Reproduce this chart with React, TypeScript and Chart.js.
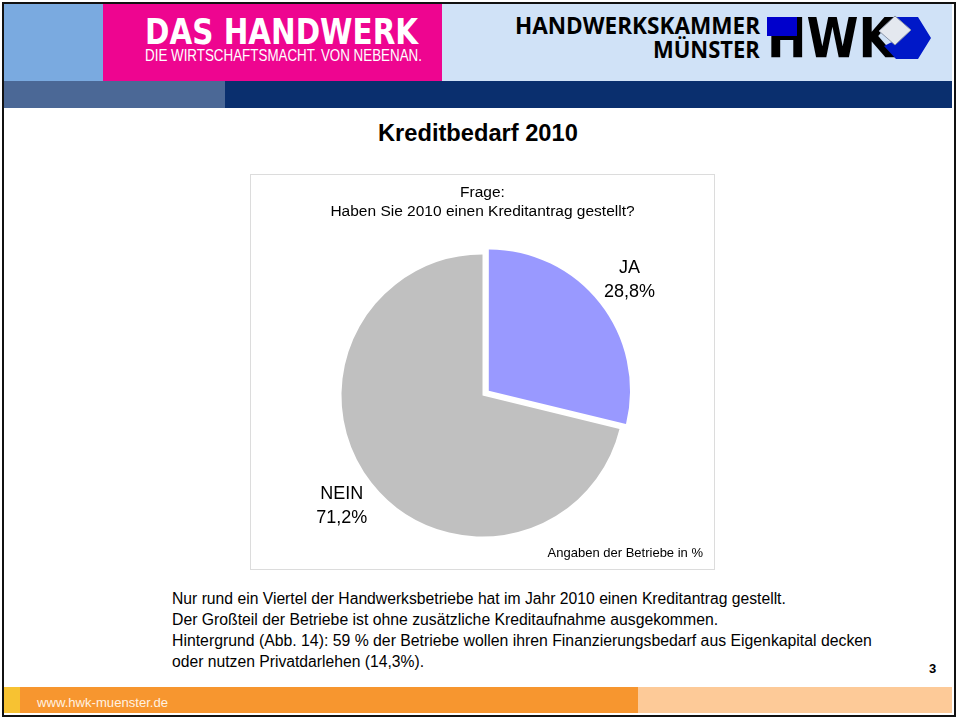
import React, { useEffect, useLayoutEffect, useRef, useState } from "react";
import { Chart, registerables } from "chart.js";

Chart.register(...registerables);

// ---------- data ----------
const categories = ["JA", "NEIN"];
const shares = [28.8, 71.2];
const sliceColors = ["#9999ff", "#c0c0c0"];
const sliceOffsets = [32, 0]; // Chart.js 4 translates an arc by offset / 4
const questionLines = ["Frage:", "Haben Sie 2010 einen Kreditantrag gestellt?"];
const sourceNote = "Angaben der Betriebe in %";
const slideTitle = "Kreditbedarf 2010";
const bodyLines = [
  "Nur rund ein Viertel der Handwerksbetriebe hat im Jahr 2010 einen Kreditantrag gestellt.",
  "Der Großteil der Betriebe ist ohne zusätzliche Kreditaufnahme ausgekommen.",
  "Hintergrund (Abb. 14): 59 % der Betriebe wollen ihren Finanzierungsbedarf aus Eigenkapital decken",
  "oder nutzen Privatdarlehen (14,3%).",
];
const bodyWidths = [614, 546, 700, 252];

const FONT = '"Liberation Sans", Arial, Helvetica, sans-serif';
const HEAVY = '"DejaVu Sans", "Liberation Sans", Arial, sans-serif';
const HUMAN = '"Open Sans", "Liberation Sans", Arial, sans-serif';

const fmt = (v: number) => v.toFixed(1).replace(".", ",") + "%";

const sliceLabelPlugin = {
  id: "sliceLabels",
  afterDatasetsDraw(chart: any) {
    const meta = chart.getDatasetMeta(0);
    const ctx = chart.ctx;
    ctx.save();
    ctx.font = `18px ${FONT}`;
    ctx.fillStyle = "#000";
    ctx.textAlign = "center";
    ctx.textBaseline = "middle";
    meta.data.forEach((arc: any, i: number) => {
      const p = arc.getProps(["x", "y", "startAngle", "endAngle", "outerRadius"], true);
      const mid = (p.startAngle + p.endAngle) / 2;
      const r = p.outerRadius + (arc.options.offset || 0) / 4 + 38;
      const cx = p.x + Math.cos(mid) * r;
      const cy = p.y + Math.sin(mid) * r;
      ctx.fillText(chart.data.labels[i], cx, cy - 12);
      ctx.fillText(fmt(chart.data.datasets[0].data[i]), cx, cy + 12);
    });
    ctx.restore();
  },
};

function Fit(props: {
  x: number; y: number; w: number; size: number; weight?: number | string;
  color?: string; align?: "left" | "center" | "right"; children: React.ReactNode; family?: string;
}) {
  const { x, y, w, size, weight = 400, color = "#000", align = "left", children, family = FONT } = props;
  const ref = useRef<HTMLSpanElement>(null);
  const [s, setS] = useState(1);
  useLayoutEffect(() => {
    if (ref.current) {
      const nat = ref.current.offsetWidth;
      if (nat > 0) setS(w / nat);
    }
  }, [w, children]);
  const left = align === "left" ? x : align === "center" ? x - w / 2 : x - w;
  return (
    <span
      ref={ref}
      style={{
        position: "absolute", left, top: y - size / 2, fontSize: size, lineHeight: `${size}px`,
        fontWeight: weight as any, color, fontFamily: family, whiteSpace: "nowrap",
        transform: `scaleX(${s})`, transformOrigin: "left top",
      }}
    >
      {children}
    </span>
  );
}

function PieChart() {
  const ref = useRef<HTMLCanvasElement>(null);
  useEffect(() => {
    if (!ref.current) return;
    const chart = new Chart(ref.current, {
      type: "pie",
      data: {
        labels: categories,
        datasets: [
          {
            data: shares,
            backgroundColor: sliceColors,
            borderWidth: 0,
            offset: sliceOffsets,
            hoverOffset: 0,
          } as any,
        ],
      },
      options: {
        responsive: false,
        animation: false,
        radius: 141,
        layout: { padding: { left: 11, right: 11, top: 0, bottom: 0 } },
        plugins: {
          legend: { display: false },
          tooltip: { enabled: false },
          title: {
            display: true,
            text: questionLines,
            color: "#000",
            font: { family: FONT, size: 15.5, weight: "normal", lineHeight: 1.25 } as any,
            padding: { top: 8, bottom: 28 },
          },
          subtitle: {
            display: true,
            position: "bottom",
            align: "end",
            text: sourceNote,
            color: "#000",
            font: { family: FONT, size: 13, weight: "normal", lineHeight: 1.2 } as any,
            padding: { top: 4, bottom: 8 },
          },
        },
      } as any,
      plugins: [sliceLabelPlugin],
    });
    return () => chart.destroy();
  }, []);
  return <canvas ref={ref} width={463} height={394} style={{ display: "block" }} />;
}

export default function App() {
  return (
    <div style={{ position: "absolute", left: 0, top: 0, width: 959, height: 718, background: "#fff", overflow: "hidden", fontFamily: FONT }}>
      {/* frame */}
      <div style={{ position: "absolute", left: 2, top: 2, width: 950, height: 711, border: "2px solid #111" }} />
      {/* header bands */}
      <div style={{ position: "absolute", left: 4, top: 4, width: 99, height: 77, background: "#7aaae0" }} />
      <div style={{ position: "absolute", left: 103, top: 4, width: 339, height: 77, background: "#ee0590" }} />
      <div style={{ position: "absolute", left: 442, top: 4, width: 510, height: 77, background: "#d0e2f7" }} />
      <div style={{ position: "absolute", left: 4, top: 81, width: 221, height: 27, background: "#4b6896" }} />
      <div style={{ position: "absolute", left: 225, top: 81, width: 727, height: 27, background: "#0a2f6e" }} />

      {/* left logo */}
      <Fit x={145} y={31.5} w={273} size={36} weight={700} color="#fff" family={HEAVY}>DAS HANDWERK</Fit>
      <Fit x={145} y={55} w={277} size={17} color="#fff">DIE WIRTSCHAFTSMACHT. VON NEBENAN.</Fit>

      {/* right logo */}
      <Fit x={515} y={25.5} w={245} size={23} weight={700} color="#000" family={HUMAN}>HANDWERKSKAMMER</Fit>
      <Fit x={760} y={49.5} w={107} size={23} weight={700} color="#000" align="right" family={HUMAN}>MÜNSTER</Fit>
      <Fit x={767} y={37.5} w={128} size={56} weight={700} color="#000" family={HEAVY}>HWK</Fit>
      <div style={{ position: "absolute", left: 767, top: 17, width: 30, height: 19, background: "#0000cc" }} />
      <svg style={{ position: "absolute", left: 0, top: 0 }} width={959} height={110}>
        <polygon points="896,17 918,17 931,38 918,59 896,59 884,46 900,38 893,24" fill="#0018c8" />
        <polygon points="879,31 895,16 911,30 895,45" fill="#e4e8ef" stroke="#8a94a8" strokeWidth={1} />
      </svg>

      {/* title */}
      <Fit x={478} y={133.3} w={200} size={23.3} weight={700} align="center">{slideTitle}</Fit>

      {/* chart box */}
      <div style={{ position: "absolute", left: 250, top: 174, width: 463, height: 394, border: "1px solid #dcdcdc" }}>
        <PieChart />
      </div>

      {/* body text */}
      {bodyLines.map((t, i) => (
        <Fit key={i} x={172} y={598.5 + 21 * i} w={bodyWidths[i]} size={16}>{t}</Fit>
      ))}

      <Fit x={929} y={668} w={7} size={13} weight={700}>3</Fit>

      {/* footer */}
      <div style={{ position: "absolute", left: 4, top: 687, width: 16, height: 26, background: "#f7c232" }} />
      <div style={{ position: "absolute", left: 20, top: 687, width: 618, height: 26, background: "#f7962f" }} />
      <div style={{ position: "absolute", left: 638, top: 687, width: 314, height: 26, background: "#fdca98" }} />
      <Fit x={37} y={703} w={131} size={13.5} color="#fff2e2">www.hwk-muenster.de</Fit>
    </div>
  );
}
